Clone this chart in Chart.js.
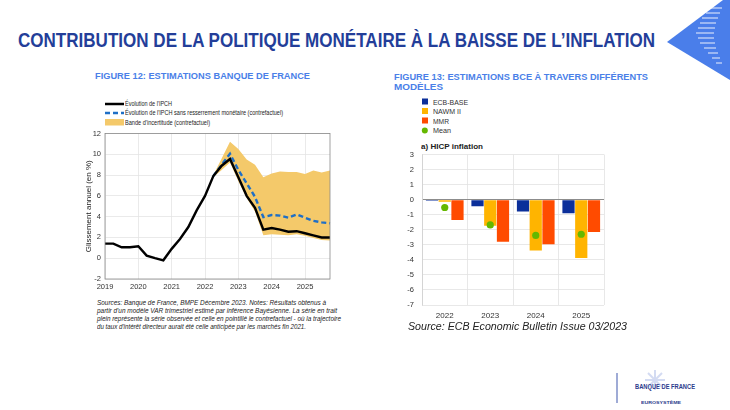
<!DOCTYPE html>
<html>
<head>
<meta charset="utf-8">
<script src="https://cdn.jsdelivr.net/npm/chart.js@4.4.0/dist/chart.umd.min.js"></script>
<style>
  body { margin: 0; width: 730px; height: 410px; background: #fff; position: relative; overflow: hidden; font-family: Arial, "Liberation Sans", sans-serif; }
  .t { position: absolute; white-space: nowrap; line-height: 1; transform-origin: 0 50%; }
  .box { position: absolute; }
</style>
</head>
<body>

<!-- top right decoration -->
<svg class="box" style="left:660px;top:0" width="70" height="85">
  <polygon points="7,42 63,0 70,0 70,80" fill="#4A7EEA"/>
  <g stroke="#fff" stroke-opacity="0.75" stroke-width="1.2">
    <line x1="50" y1="8" x2="62" y2="8"/><line x1="46" y1="13" x2="60" y2="13"/>
    <line x1="42" y1="18" x2="58" y2="18"/><line x1="40" y1="23" x2="56" y2="23"/>
    <line x1="38" y1="28" x2="55" y2="28"/><line x1="36" y1="33" x2="54" y2="33"/>
    <line x1="38" y1="38" x2="54" y2="38"/><line x1="40" y1="43" x2="55" y2="43"/>
    <line x1="44" y1="48" x2="56" y2="48"/><line x1="48" y1="53" x2="58" y2="53"/>
    <line x1="52" y1="58" x2="60" y2="58"/><line x1="56" y1="63" x2="62" y2="63"/>
  </g>
</svg>

<div class="t" data-w="637" style="left:18px;top:30px;font-size:20px;font-weight:bold;color:#233E99">CONTRIBUTION DE LA POLITIQUE MONÉTAIRE À LA BAISSE DE L’INFLATION</div>

<div class="t" data-w="215" style="left:95px;top:72px;font-size:8.5px;font-weight:bold;color:#4A7FE8">FIGURE 12: ESTIMATIONS BANQUE DE FRANCE</div>
<div class="t" data-w="254" style="left:394px;top:72.5px;font-size:8.5px;font-weight:bold;color:#4A7FE8">FIGURE 13: ESTIMATIONS BCE À TRAVERS DIFFÉRENTS</div>
<div class="t" data-w="49" style="left:394px;top:82.5px;font-size:8.5px;font-weight:bold;color:#4A7FE8">MODÈLES</div>

<!-- left legend -->
<svg class="box" style="left:104px;top:99px" width="21" height="28">
  <line x1="1" y1="5" x2="20" y2="5" stroke="#000" stroke-width="2.5"/>
  <line x1="1" y1="14" x2="20" y2="14" stroke="#1F6FC6" stroke-width="2.5" stroke-dasharray="5,3"/>
  <rect x="1" y="20" width="19" height="6.5" fill="#F4C96A"/>
</svg>
<div class="t" data-w="47" style="left:125px;top:101px;font-size:6.5px;color:#222">Évolution de l'IPCH</div>
<div class="t" data-w="158" style="left:125px;top:110px;font-size:6.5px;color:#222">Évolution de l'IPCH sans resserrement monétaire (contrefactuel)</div>
<div class="t" data-w="85" style="left:125px;top:119.5px;font-size:6.5px;color:#222">Bande d'incertitude (contrefactuel)</div>

<div class="box" style="left:80px;top:125px;width:260px;height:170px"><canvas id="left"></canvas></div>

<div class="t" data-w="229" style="left:97px;top:299px;font-size:7px;font-style:italic;color:#222">Sources: Banque de France, BMPE Décembre 2023. Notes: Résultats obtenus à</div>
<div class="t" data-w="240" style="left:97px;top:307.3px;font-size:7px;font-style:italic;color:#222">partir d'un modèle VAR trimestriel estimé par inférence Bayésienne. La série en trait</div>
<div class="t" data-w="244" style="left:97px;top:315.3px;font-size:7px;font-style:italic;color:#222">plein représente la série observée et celle en pointillé le contrefactuel - où la trajectoire</div>
<div class="t" data-w="209" style="left:97px;top:323px;font-size:7px;font-style:italic;color:#222">du taux d'intérêt directeur aurait été celle anticipée par les marchés fin 2021.</div>

<!-- right legend -->
<svg class="box" style="left:420px;top:96px" width="12" height="40">
  <rect x="2" y="2.5" width="6" height="6" fill="#0B2F9A"/>
  <rect x="2" y="12" width="6" height="6" fill="#FFB400"/>
  <rect x="2" y="21.5" width="6" height="6" fill="#FF4B00"/>
  <circle cx="4.8" cy="34.5" r="3" fill="#65B800"/>
</svg>
<div class="t" data-w="35" style="left:433px;top:98.5px;font-size:7px;color:#333">ECB-BASE</div>
<div class="t" data-w="28" style="left:433px;top:108px;font-size:7px;color:#333">NAWM II</div>
<div class="t" data-w="16" style="left:433px;top:117.5px;font-size:7px;color:#333">MMR</div>
<div class="t" data-w="18" style="left:433px;top:127px;font-size:7px;color:#333">Mean</div>
<div class="t" data-w="62" style="left:421px;top:143px;font-size:7px;font-weight:bold;color:#222">a) HICP inflation</div>

<div class="box" style="left:380px;top:142px;width:240px;height:183px"><canvas id="right"></canvas></div>

<div class="t" data-w="219" style="left:408px;top:322px;font-size:10px;font-style:italic;color:#222">Source: ECB Economic Bulletin Issue 03/2023</div>

<!-- bottom right logo -->
<svg class="box" style="left:612px;top:368px" width="95" height="40">
  <line x1="5" y1="5" x2="5" y2="35" stroke="#7F8FC8" stroke-width="1.5"/>
  <g stroke="#C9D3F0" stroke-width="2" opacity="0.8">
    <line x1="43" y1="2" x2="43" y2="22"/><line x1="33" y1="12" x2="53" y2="12"/>
    <line x1="36" y1="5" x2="50" y2="19"/><line x1="50" y1="5" x2="36" y2="19"/>
  </g>
</svg>
<div class="t" data-w="60" style="left:635px;top:384px;font-size:6.5px;font-weight:bold;color:#2B3A8C">BANQUE DE FRANCE</div>
<div class="t" data-w="40" style="left:641px;top:401px;font-size:4px;font-weight:bold;color:#2B3A8C">EUROSYSTÈME</div>

<script>
// ---- Figure 12 : Banque de France (quarterly, 2019T1 - 2025T4)
const quarters = ['2019T1','2019T2','2019T3','2019T4','2020T1','2020T2','2020T3','2020T4',
  '2021T1','2021T2','2021T3','2021T4','2022T1','2022T2','2022T3','2022T4',
  '2023T1','2023T2','2023T3','2023T4','2024T1','2024T2','2024T3','2024T4',
  '2025T1','2025T2','2025T3','2025T4'];
const ipch = [1.4, 1.4, 1.05, 1.05, 1.15, 0.25, 0.0, -0.2, 0.9, 1.85, 3.0, 4.6, 6.0, 7.9, 8.9, 9.55,
  7.8, 6.0, 4.85, 2.75, 2.9, 2.75, 2.55, 2.6, 2.4, 2.2, 2.0, 2.0];
const ipchSansResserrement = [null, null, null, null, null, null, null, null, null, null, null, null, null, 7.9, 9.0, 10.05,
  8.5, 7.2, 5.9, 3.95, 4.15, 4.1, 3.9, 4.2, 3.9, 3.6, 3.45, 3.35];
const bandeHaute = [null, null, null, null, null, null, null, null, null, null, null, null, null, 8.0, 9.6, 11.2,
  10.5, 9.5, 9.0, 7.8, 8.15, 8.35, 8.3, 8.3, 8.1, 8.45, 8.25, 8.45];
const bandeBasse = [null, null, null, null, null, null, null, null, null, null, null, null, null, 7.8, 8.5, 9.2,
  7.4, 5.8, 4.5, 2.2, 2.3, 2.25, 2.2, 2.3, 2.15, 1.95, 1.75, 1.7];
const leftTicks = { min: -2, max: 12, step: 2 };

// ---- Figure 13 : BCE
const years = ['2022', '2023', '2024', '2025'];
const ecbBase = [-0.07, -0.44, -0.78, -0.9];
const nawm2 = [-0.14, -1.73, -3.38, -3.87];
const mmr = [-1.35, -2.8, -2.97, -2.15];
const meanModels = [-0.52, -1.68, -2.38, -2.3];
const rightTicks = { min: -7, max: 3, step: 1 };

// fit text boxes to the widths measured on the picture
document.querySelectorAll('[data-w]').forEach(el => {
  const w = el.getBoundingClientRect().width;
  el.style.transform = 'scaleX(' + (el.dataset.w / w) + ')';
});

const frame = {
  id: 'frame',
  afterDraw(chart) {
    const a = chart.chartArea, ctx = chart.ctx;
    ctx.save();
    ctx.strokeStyle = '#8a8a8a';
    ctx.lineWidth = 0.8;
    ctx.strokeRect(a.left, a.top, a.right - a.left, a.bottom - a.top);
    ctx.restore();
  }
};

new Chart(document.getElementById('left'), {
  type: 'line',
  data: {
    labels: quarters,
    datasets: [
      { data: ipch, borderColor: '#000', borderWidth: 2.4, pointRadius: 0, fill: false },
      { data: ipchSansResserrement, borderColor: '#1F6FC6', borderWidth: 2.4, borderDash: [5, 3], pointRadius: 0, fill: false },
      { data: bandeHaute, borderWidth: 0, borderColor: 'rgba(0,0,0,0)', pointRadius: 0, backgroundColor: '#F4C96A', fill: 3 },
      { data: bandeBasse, borderWidth: 0, borderColor: 'rgba(0,0,0,0)', pointRadius: 0, fill: false }
    ]
  },
  options: {
    responsive: true,
    maintainAspectRatio: false,
    animation: false,
    layout: { padding: { top: 7, right: 10, left: 0, bottom: 0 } },
    plugins: { legend: { display: false }, tooltip: { enabled: false } },
    scales: {
      x: {
        offset: false,
        border: { display: false },
        grid: { drawTicks: false, lineWidth: 0.8, color: c => (c.index % 4 === 0 ? '#e4e4e4' : 'rgba(0,0,0,0)') },
        ticks: {
          autoSkip: false, maxRotation: 0, padding: 3, color: '#333', font: { size: 7.5 },
          callback: (v, i) => (i % 4 === 0 ? quarters[i].slice(0, 4) : '')
        },
        afterFit(s) { s.height = 16; }
      },
      y: {
        min: leftTicks.min, max: leftTicks.max,
        border: { display: false },
        grid: { drawTicks: false, lineWidth: 0.8, color: '#e4e4e4' },
        ticks: { stepSize: leftTicks.step, padding: 4, color: '#333', font: { size: 7.5 } },
        title: { display: true, text: 'Glissement annuel (en %)', color: '#222', font: { size: 8 }, padding: { top: 4, bottom: 0 } },
        afterFit(s) { s.width = 25; }
      }
    }
  },
  plugins: [frame]
});

new Chart(document.getElementById('right'), {
  type: 'bar',
  data: {
    labels: years,
    datasets: [
      { type: 'line', data: meanModels, showLine: false, pointRadius: 3.6, pointBackgroundColor: '#65B800', pointBorderWidth: 0, order: 0 },
      { data: ecbBase, backgroundColor: '#0B2F9A', order: 1 },
      { data: nawm2, backgroundColor: '#FFB400', order: 1 },
      { data: mmr, backgroundColor: '#FF4B00', order: 1 }
    ]
  },
  options: {
    responsive: true,
    maintainAspectRatio: false,
    animation: false,
    layout: { padding: { top: 5, right: 16, left: 0, bottom: 0 } },
    datasets: { bar: { barPercentage: 0.96, categoryPercentage: 0.84 } },
    plugins: { legend: { display: false }, tooltip: { enabled: false } },
    scales: {
      x: {
        border: { display: false },
        grid: { drawTicks: false, lineWidth: 0.8, color: '#e2e2e2' },
        ticks: { padding: 6, color: '#333', font: { size: 8 } },
        afterFit(s) { s.height = 20; }
      },
      y: {
        min: rightTicks.min, max: rightTicks.max,
        border: { display: true, color: '#cfcfcf', width: 0.8 },
        grid: {
          drawTicks: false,
          lineWidth: c => (c.tick && c.tick.value === 0 ? 1 : 0.8),
          color: c => (c.tick && c.tick.value === 0 ? '#8c8c8c' : '#e2e2e2')
        },
        ticks: { stepSize: rightTicks.step, padding: 8, color: '#333', font: { size: 7.5 } },
        afterFit(s) { s.width = 42; }
      }
    }
  }
});
</script>
</body>
</html>
